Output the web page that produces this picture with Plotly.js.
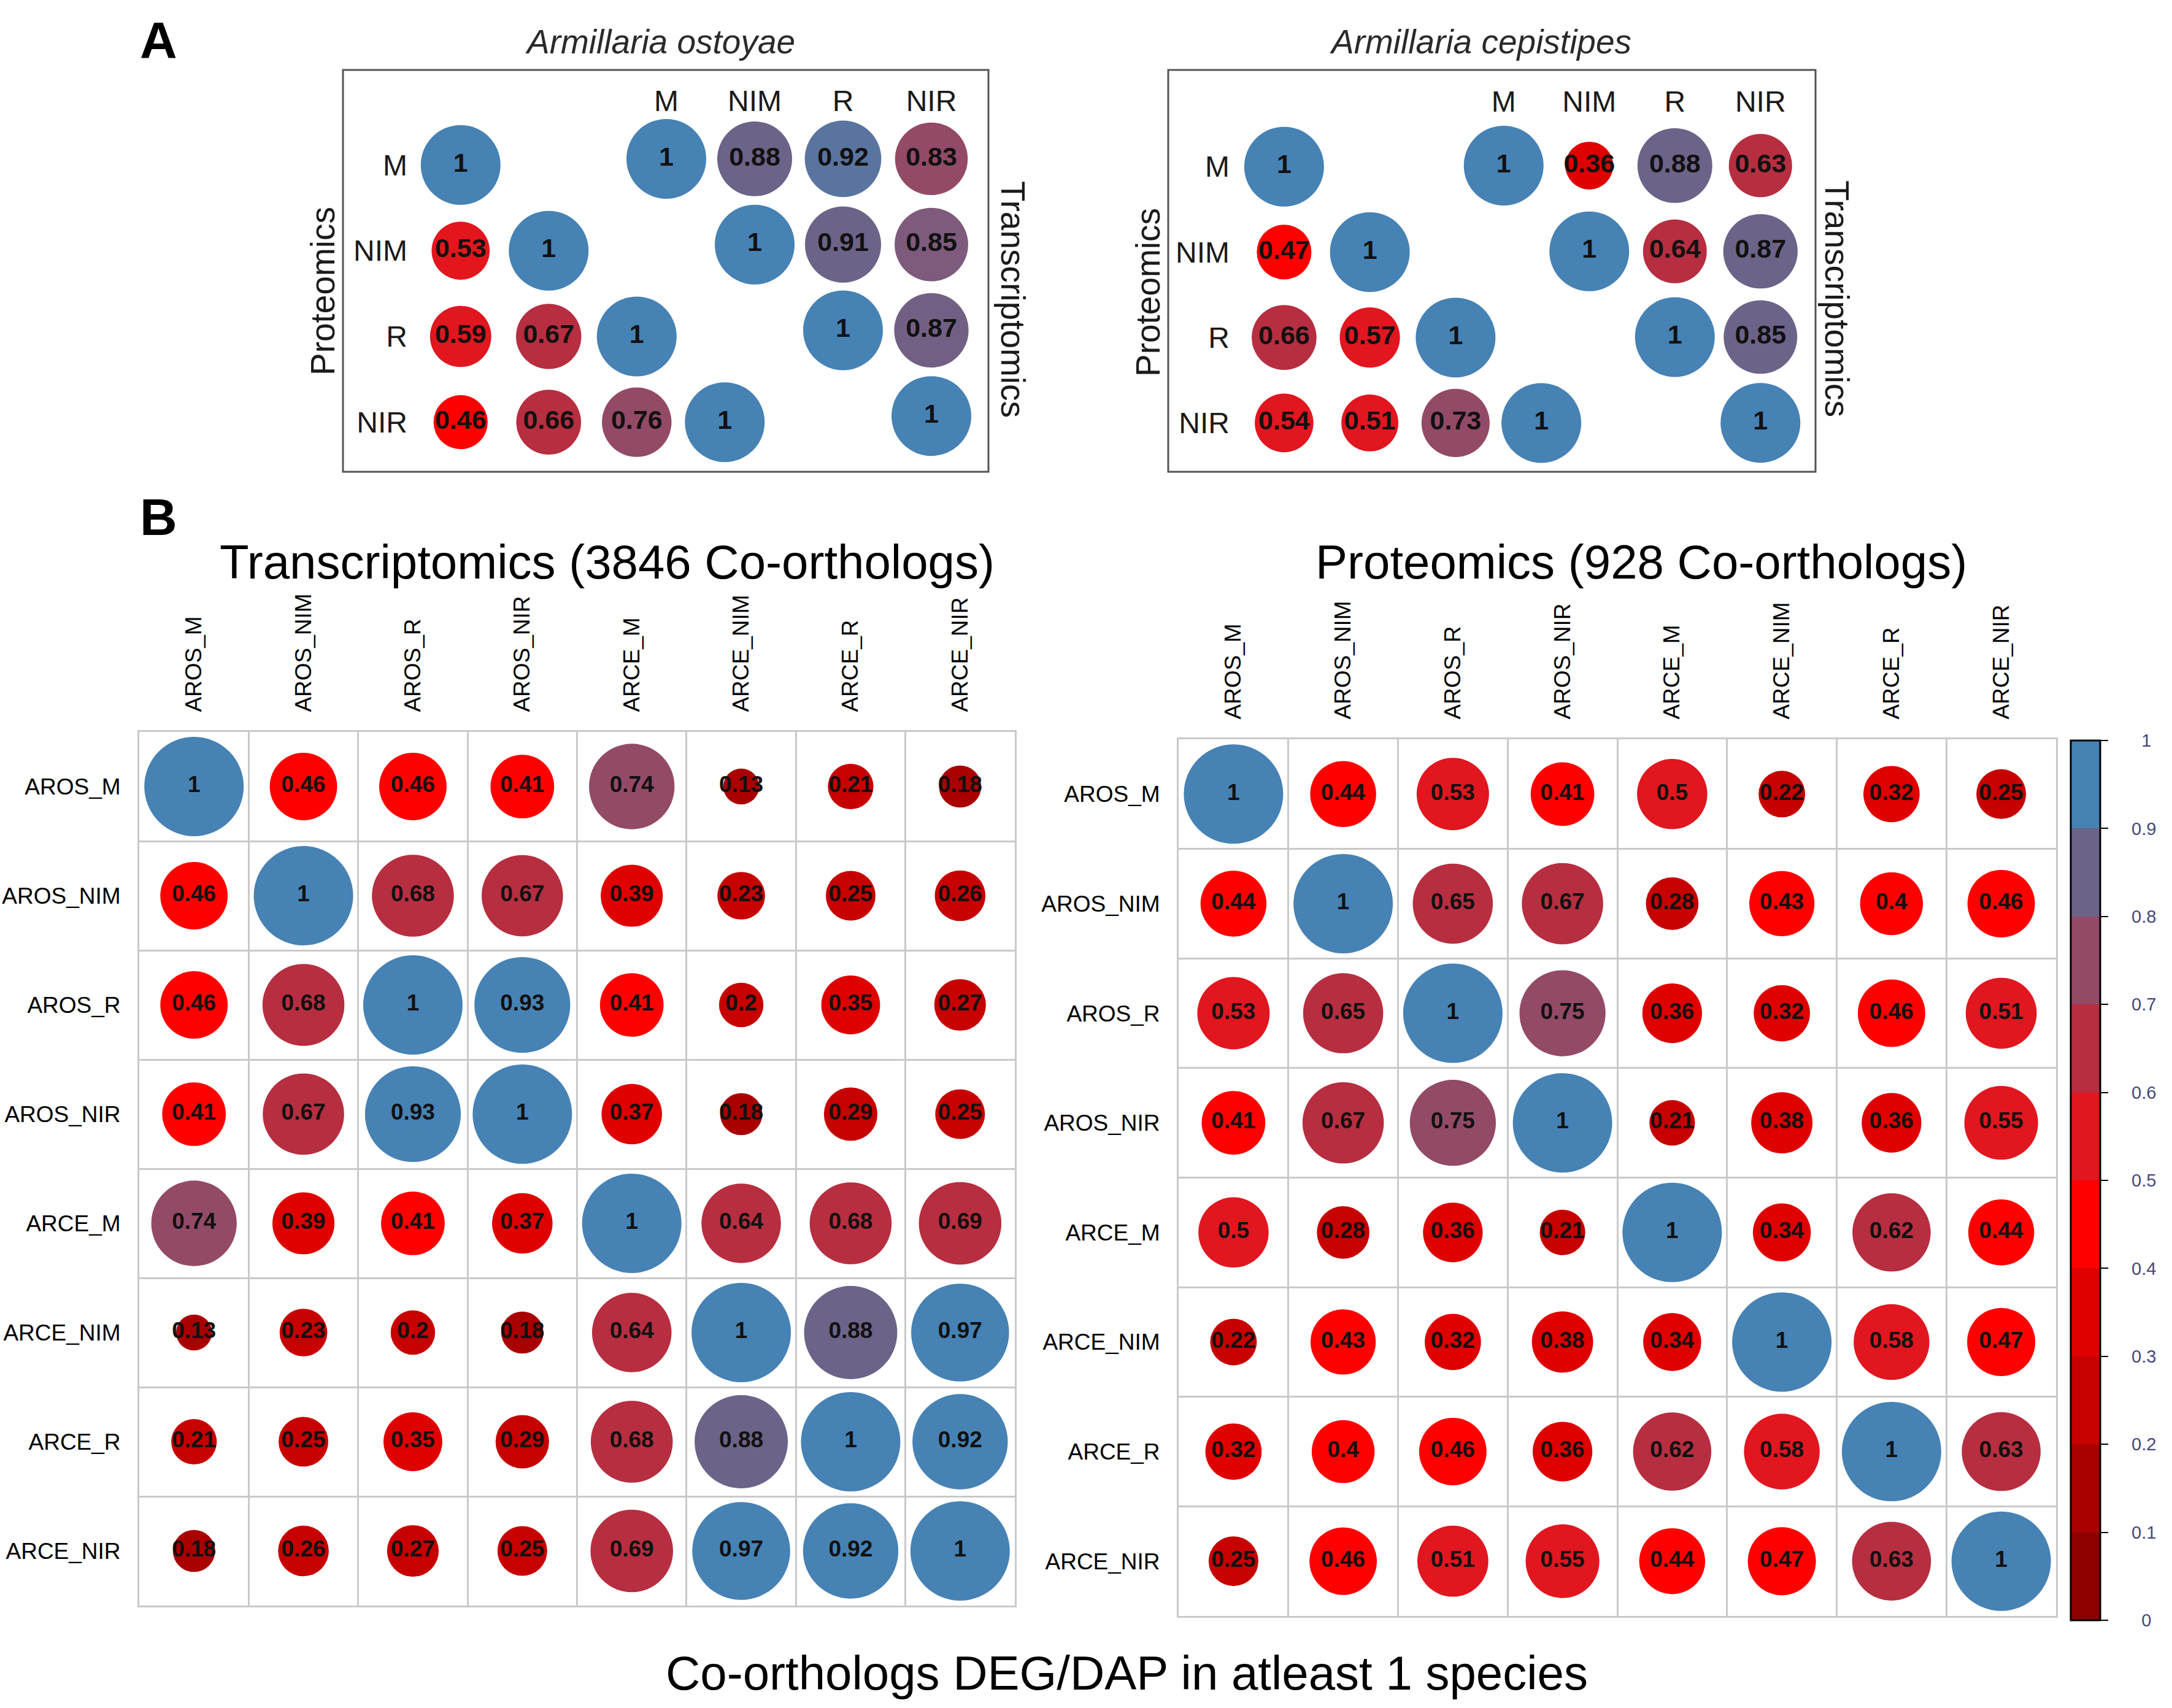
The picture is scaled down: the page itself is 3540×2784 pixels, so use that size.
<!DOCTYPE html>
<html>
<head>
<meta charset="utf-8">
<script src="https://cdn.plot.ly/plotly-3.0.1.min.js"></script>
<style>html,body{margin:0;padding:0;background:#fff;}#chart{width:3540px;height:2784px;}</style>
</head>
<body>
<div id="chart"></div>
<script>
// ---------------- DATA ----------------
const groupsA = ['M', 'NIM', 'R', 'NIR'];
// Panel A: lower triangle = Proteomics (row i, columns 0..i)
const ostoyaeProt = [[1], [0.53, 1], [0.59, 0.67, 1], [0.46, 0.66, 0.76, 1]];
// Panel A: upper triangle = Transcriptomics (row i, columns i..3)
const ostoyaeTrans = [[1, 0.88, 0.92, 0.83], [1, 0.91, 0.85], [1, 0.87], [1]];
const cepistipesProt = [[1], [0.47, 1], [0.66, 0.57, 1], [0.54, 0.51, 0.73, 1]];
const cepistipesTrans = [[1, 0.36, 0.88, 0.63], [1, 0.64, 0.87], [1, 0.85], [1]];

const samples = ['AROS_M', 'AROS_NIM', 'AROS_R', 'AROS_NIR', 'ARCE_M', 'ARCE_NIM', 'ARCE_R', 'ARCE_NIR'];
const transMatrix = [
  [1, 0.46, 0.46, 0.41, 0.74, 0.13, 0.21, 0.18],
  [0.46, 1, 0.68, 0.67, 0.39, 0.23, 0.25, 0.26],
  [0.46, 0.68, 1, 0.93, 0.41, 0.2, 0.35, 0.27],
  [0.41, 0.67, 0.93, 1, 0.37, 0.18, 0.29, 0.25],
  [0.74, 0.39, 0.41, 0.37, 1, 0.64, 0.68, 0.69],
  [0.13, 0.23, 0.2, 0.18, 0.64, 1, 0.88, 0.97],
  [0.21, 0.25, 0.35, 0.29, 0.68, 0.88, 1, 0.92],
  [0.18, 0.26, 0.27, 0.25, 0.69, 0.97, 0.92, 1]
];
const protMatrix = [
  [1, 0.44, 0.53, 0.41, 0.5, 0.22, 0.32, 0.25],
  [0.44, 1, 0.65, 0.67, 0.28, 0.43, 0.4, 0.46],
  [0.53, 0.65, 1, 0.75, 0.36, 0.32, 0.46, 0.51],
  [0.41, 0.67, 0.75, 1, 0.21, 0.38, 0.36, 0.55],
  [0.5, 0.28, 0.36, 0.21, 1, 0.34, 0.62, 0.44],
  [0.22, 0.43, 0.32, 0.38, 0.34, 1, 0.58, 0.47],
  [0.32, 0.4, 0.46, 0.36, 0.62, 0.58, 1, 0.63],
  [0.25, 0.46, 0.51, 0.55, 0.44, 0.47, 0.63, 1]
];
const cbTicks = [0, 0.1, 0.2, 0.3, 0.4, 0.5, 0.6, 0.7, 0.8, 0.9, 1];

// ---------------- STYLE ----------------
const W = 3540, H = 2784;
const FONT = 'Liberation Sans, Arial, sans-serif';
const binColors = ['#8e0000', '#a90000', '#c70000', '#df0000', '#ff0000',
                   '#e1161f', '#b72e40', '#934a66', '#6c6388', '#4682b4'];
const binScale = [];
binColors.forEach((c, k) => { binScale.push([k / 10, c]); binScale.push([(k + 1) / 10, c]); });
const ostoyaeScale = [[0, '#8e0000'], [0.4, '#ff0000'], [0.47, '#ff0000'], [0.53, '#e3161d'],
  [0.6, '#e1161f'], [0.65, '#b72e40'], [0.7, '#b72e40'], [0.76, '#934a66'], [0.83, '#934a66'],
  [0.85, '#7e5a7c'], [0.88, '#6c6388'], [0.91, '#6c6388'], [0.92, '#5a74a0'], [0.97, '#4682b4'], [1, '#4682b4']];

const px = x => x / W;
const py = y => 1 - y / H;
const domX = (a, b) => [px(a), px(b)];
const domY = (top, bottom) => [py(bottom), py(top)];

// ---------------- TRACES ----------------
function matrixTrace(rows, cols, mat, xa, ya, D, fontSize, scale, showscale) {
  const x = [], y = [], v = [];
  mat.forEach((row, i) => row.forEach((val, j) => { x.push(cols[j]); y.push(rows[i]); v.push(val); }));
  return {
    type: 'scatter', mode: 'markers+text', xaxis: xa, yaxis: ya,
    x: x, y: y, text: v.map(String), textposition: 'middle center',
    textfont: {family: FONT, size: fontSize, color: '#111', weight: 700},
    marker: {size: v.map(a => D * Math.sqrt(a)), sizemode: 'diameter', color: v, cmin: 0, cmax: 1,
             colorscale: scale, showscale: !!showscale, opacity: 1, line: {width: 0}},
    hoverinfo: 'skip', showlegend: false, cliponaxis: false
  };
}
function triTrace(tri, lower, xa, ya, scale) {
  const x = [], y = [], v = [];
  tri.forEach((row, i) => row.forEach((val, k) => {
    const j = lower ? k : i + k;
    x.push(groupsA[j]); y.push(groupsA[i]); v.push(val);
  }));
  return {
    type: 'scatter', mode: 'markers+text', xaxis: xa, yaxis: ya,
    x: x, y: y, text: v.map(String), textposition: 'middle center',
    textfont: {family: FONT, size: 43, color: '#111', weight: 700},
    marker: {size: v.map(a => 130 * Math.sqrt(a)), sizemode: 'diameter', color: v, cmin: 0, cmax: 1,
             colorscale: scale, showscale: false, opacity: 1, line: {width: 0}},
    hoverinfo: 'skip', showlegend: false, cliponaxis: false
  };
}

const transTrace = matrixTrace(samples, samples, transMatrix, 'x', 'y', 162, 37, binScale, false);
const protTrace = matrixTrace(samples, samples, protMatrix, 'x2', 'y2', 162, 37, binScale, true);
const nbsp = n => '\u00a0'.repeat(n);
protTrace.marker.colorbar = {
  x: px(3375), xanchor: 'left', xpad: 0, ypad: 0,
  y: py(1924), yanchor: 'middle', len: (2641 - 1207) / H, lenmode: 'fraction',
  thickness: 48, thicknessmode: 'pixels',
  outlinecolor: '#000', outlinewidth: 3,
  ticks: 'outside', ticklen: 12, tickwidth: 2, tickcolor: '#000',
  tickvals: cbTicks, ticktext: cbTicks.map(t => nbsp(String(t).length === 1 ? 6 : 4) + String(t)),
  tickfont: {family: FONT, size: 29, color: '#46467a'}
};

const data = [
  transTrace, protTrace,
  triTrace(ostoyaeProt, true, 'x3', 'y3', ostoyaeScale),
  triTrace(ostoyaeTrans, false, 'x4', 'y4', ostoyaeScale),
  triTrace(cepistipesProt, true, 'x5', 'y5', binScale),
  triTrace(cepistipesTrans, false, 'x6', 'y6', binScale)
];

// ---------------- AXES ----------------
function bAxisX(dom, anchor) {
  return {domain: dom, anchor: anchor, type: 'category', categoryarray: samples, categoryorder: 'array',
    range: [-0.5, 7.5], side: 'top', tickangle: -90, tickson: 'boundaries', ticks: '',
    showgrid: true, gridcolor: '#c9c9c9', gridwidth: 3, showline: true, linecolor: '#c9c9c9', linewidth: 3, mirror: true,
    zeroline: false, tickfont: {family: FONT, size: 37, color: '#000'}, ticklabelstandoff: 22, fixedrange: true};
}
function bAxisY(dom, anchor) {
  return {domain: dom, anchor: anchor, type: 'category', categoryarray: samples, categoryorder: 'array',
    range: [7.5, -0.5], tickson: 'boundaries', ticks: '',
    showgrid: true, gridcolor: '#c9c9c9', gridwidth: 3, showline: true, linecolor: '#c9c9c9', linewidth: 3, mirror: true,
    zeroline: false, tickfont: {family: FONT, size: 37, color: '#000'}, ticklabelstandoff: 20, fixedrange: true};
}
function aAxis(dom, anchor, isY, labels, side, standoff) {
  return {domain: dom, anchor: anchor, type: 'category', categoryarray: groupsA, categoryorder: 'array',
    range: isY ? [3.5, -0.5] : [-0.5, 3.5], showgrid: false, zeroline: false, showline: false, ticks: '',
    showticklabels: labels, side: side, tickfont: {family: FONT, size: 48, color: '#1a1a1a'},
    ticklabelstandoff: standoff, fixedrange: true};
}

const annFont = (size, extra) => Object.assign({family: FONT, size: size, color: '#000'}, extra || {});
function ann(text, x, y, size, extra, angle) {
  return {text: text, x: px(x), y: py(y), xref: 'paper', yref: 'paper', xanchor: 'center', yanchor: 'middle',
          showarrow: false, font: annFont(size, extra), textangle: angle || 0};
}

const layout = {
  width: W, height: H, margin: {l: 0, r: 0, t: 0, b: 0},
  paper_bgcolor: '#fff', plot_bgcolor: 'rgba(0,0,0,0)', showlegend: false,
  xaxis: bAxisX(domX(227, 1654), 'y'), yaxis: bAxisY(domY(1193, 2617), 'x'),
  xaxis2: bAxisX(domX(1921, 3351), 'y2'), yaxis2: bAxisY(domY(1205, 2634), 'x2'),
  xaxis3: aAxis(domX(679, 1253), 'y3', false, false, 'bottom', 0),
  yaxis3: aAxis(domY(199, 758), 'x3', true, true, 'left', 14),
  xaxis4: aAxis(domX(1014, 1590), 'y4', false, true, 'top', -3),
  yaxis4: aAxis(domY(189, 748), 'x4', true, false, 'right', 0),
  xaxis5: aAxis(domX(2023, 2582), 'y5', false, false, 'bottom', 0),
  yaxis5: aAxis(domY(202, 759), 'x5', true, true, 'left', 18),
  xaxis6: aAxis(domX(2381, 2939), 'y6', false, true, 'top', 7),
  yaxis6: aAxis(domY(200, 759), 'x6', true, false, 'right', 0),
  shapes: [
    {type: 'rect', xref: 'paper', yref: 'paper', x0: px(559), x1: px(1611), y0: py(769), y1: py(114),
     line: {color: '#555', width: 3}, fillcolor: 'rgba(0,0,0,0)', layer: 'below'},
    {type: 'rect', xref: 'paper', yref: 'paper', x0: px(1904), x1: px(2959), y0: py(769), y1: py(114),
     line: {color: '#555', width: 3}, fillcolor: 'rgba(0,0,0,0)', layer: 'below'}
  ],
  annotations: [
    ann('A', 258, 66, 84, {weight: 700}),
    ann('B', 258, 843, 84, {weight: 700}),
    ann('Armillaria ostoyae', 1076, 68, 55, {style: 'italic', color: '#2a2a2a'}),
    ann('Armillaria cepistipes', 2413, 68, 55, {style: 'italic', color: '#2a2a2a'}),
    ann('Proteomics', 526, 475, 55, {color: '#1a1a1a'}, -90),
    ann('Transcriptomics', 1651, 488, 55, {color: '#1a1a1a'}, 90),
    ann('Proteomics', 1871, 477, 55, {color: '#1a1a1a'}, -90),
    ann('Transcriptomics', 2994, 487, 55, {color: '#1a1a1a'}, 90),
    ann('Transcriptomics (3846 Co-orthologs)', 990, 916, 78),
    ann('Proteomics (928 Co-orthologs)', 2675, 916, 78),
    ann('Co-orthologs DEG/DAP in atleast 1 species', 1836, 2727, 78)
  ]
};

Plotly.newPlot('chart', data, layout, {staticPlot: true, displayModeBar: false});
</script>
</body>
</html>
